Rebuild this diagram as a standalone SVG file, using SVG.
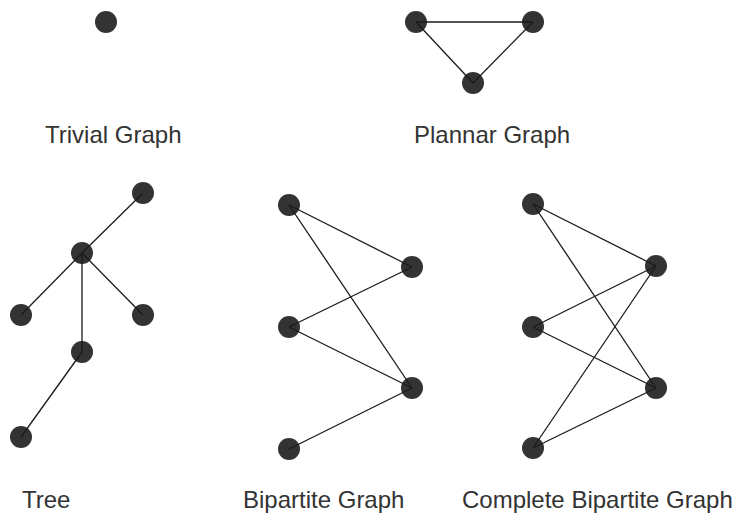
<svg xmlns="http://www.w3.org/2000/svg" width="738" height="513" viewBox="0 0 738 513">
<style>
.n{fill:#333333;}
.e{stroke:#1a1a1a;stroke-width:1.3;fill:none;}
.t{font-family:"Liberation Sans",Arial,sans-serif;font-size:24px;fill:#333333;}
</style>
<rect width="738" height="513" fill="#ffffff"/>
<g id="trivial">
<circle id="t1" class="n" cx="106" cy="22" r="11"/>
<text class="t" x="45" y="143">Trivial Graph</text>
</g>
<g id="planar">
<circle id="p1" class="n" cx="416" cy="22" r="11"/>
<circle id="p2" class="n" cx="533" cy="22" r="11"/>
<circle id="p3" class="n" cx="473" cy="83" r="11"/>
<text class="t" x="414" y="143">Plannar Graph</text>
</g>
<g id="tree">
<circle id="r1" class="n" cx="143" cy="193" r="11"/>
<circle id="r2" class="n" cx="82" cy="253" r="11"/>
<circle id="r3" class="n" cx="21" cy="315" r="11"/>
<circle id="r4" class="n" cx="143" cy="315" r="11"/>
<circle id="r5" class="n" cx="82" cy="352" r="11"/>
<circle id="r6" class="n" cx="21" cy="437" r="11"/>
<text class="t" x="22" y="508">Tree</text>
</g>
<g id="bipartite">
<circle id="b1" class="n" cx="289" cy="205" r="11"/>
<circle id="b2" class="n" cx="412" cy="267" r="11"/>
<circle id="b3" class="n" cx="289" cy="327" r="11"/>
<circle id="b4" class="n" cx="412" cy="388" r="11"/>
<circle id="b5" class="n" cx="289" cy="449" r="11"/>
<text class="t" x="243" y="508">Bipartite Graph</text>
</g>
<g id="complete">
<circle id="c1" class="n" cx="533" cy="204" r="11"/>
<circle id="c2" class="n" cx="656" cy="266" r="11"/>
<circle id="c3" class="n" cx="533" cy="327" r="11"/>
<circle id="c4" class="n" cx="656" cy="388" r="11"/>
<circle id="c5" class="n" cx="533" cy="448" r="11"/>
<text class="t" x="462" y="508">Complete Bipartite Graph</text>
</g>
<g id="connectors">
<line class="e" x1="416" y1="22" x2="533" y2="22"/>
<line class="e" x1="416" y1="22" x2="473" y2="83"/>
<line class="e" x1="533" y1="22" x2="473" y2="83"/>
<line class="e" x1="143" y1="193" x2="82" y2="253"/>
<line class="e" x1="82" y1="253" x2="21" y2="315"/>
<line class="e" x1="82" y1="253" x2="143" y2="315"/>
<line class="e" x1="82" y1="253" x2="82" y2="352"/>
<line class="e" x1="82" y1="352" x2="21" y2="437"/>
<line class="e" x1="289" y1="205" x2="412" y2="267"/>
<line class="e" x1="289" y1="205" x2="412" y2="388"/>
<line class="e" x1="289" y1="327" x2="412" y2="267"/>
<line class="e" x1="289" y1="327" x2="412" y2="388"/>
<line class="e" x1="289" y1="449" x2="412" y2="388"/>
<line class="e" x1="533" y1="204" x2="656" y2="266"/>
<line class="e" x1="533" y1="204" x2="656" y2="388"/>
<line class="e" x1="533" y1="327" x2="656" y2="266"/>
<line class="e" x1="533" y1="327" x2="656" y2="388"/>
<line class="e" x1="533" y1="448" x2="656" y2="266"/>
<line class="e" x1="533" y1="448" x2="656" y2="388"/>
</g>
</svg>
